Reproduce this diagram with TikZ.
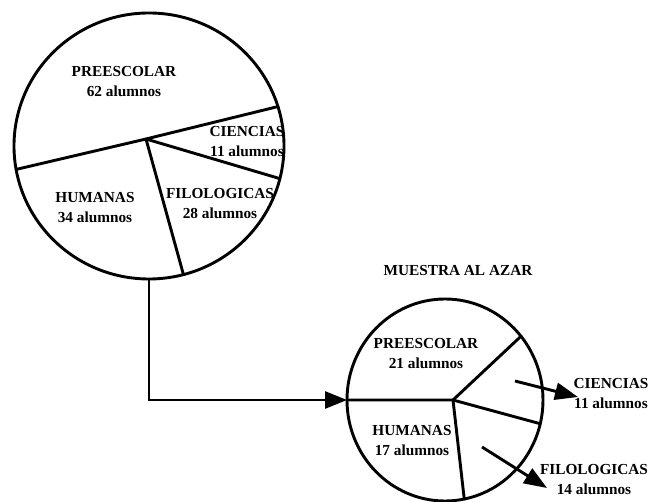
\documentclass[tikz,border=0pt]{standalone}
\usepackage{fontspec}
\setmainfont{Liberation Serif}
\usetikzlibrary{arrows.meta,shapes.geometric}
\begin{document}
\begin{tikzpicture}[x=1pt,y=-1pt,
  piechart/.style={ellipse,draw,line width=2.9pt,inner sep=0pt,outer sep=0pt},
  spoke/.style={line width=2.9pt,line cap=round},
  flow/.style={line width=2.9pt,-{Triangle[length=22pt,width=17pt]}},
  outarrow/.style={line width=2.9pt,-{Triangle[length=23pt,width=17pt]}},
  lbl/.style={align=center,inner sep=0pt,font=\bfseries\fontsize{15.3}{20}\selectfont}
]
\useasboundingbox (0,0) rectangle (662,502);
% pie charts
\node[piechart,minimum width=270pt,minimum height=266pt] (big) at (149,146) {};
\node[piechart,minimum width=196pt,minimum height=202pt] (small) at (445,400) {};
\coordinate (bc) at (146,139);
\coordinate (sc) at (453,400);
% spokes of the big chart
\draw[spoke] (big.190.9) -- (bc) -- (big.17.9);
\draw[spoke] (bc) -- (big.346.4);
\draw[spoke] (bc) -- (big.285.1);
% spokes of the small chart
\draw[spoke] (small.west) -- (sc) -- (small.40.1);
\draw[spoke] (sc) -- (small.346.7);
\draw[spoke] (sc) -- (small.281.5);
% labels big
\node[lbl] (pre1) at (124,82) {PREESCOLAR\\62 alumnos};
\node[lbl] (cie1) at (247,142) {CIENCIAS\\11 alumnos};
\node[lbl] (hum1) at (95,207.5) {HUMANAS\\34 alumnos};
\node[lbl] (fil1) at (220,204) {FILOLOGICAS\\28 alumnos};
% labels small
\node[lbl] (title) at (458,271) {MUESTRA AL AZAR};
\node[lbl] (pre2) at (426,353.5) {PREESCOLAR\\21 alumnos};
\node[lbl] (hum2) at (412,440.5) {HUMANAS\\17 alumnos};
\node[lbl] (cie2) at (611,393.5) {CIENCIAS\\11 alumnos};
\node[lbl] (fil2) at (594,480) {FILOLOGICAS\\14 alumnos};
% connector
\draw[flow] (big.south) |- (small.west);
% outgoing arrows
\coordinate (a1s) at (515,381);
\coordinate (a1e) at (578,397);
\coordinate (a2s) at (482,447);
\coordinate (a2e) at (547,488);
\draw[outarrow] (a1s) -- (a1e);
\draw[outarrow] (a2s) -- (a2e);
\end{tikzpicture}
\end{document}
